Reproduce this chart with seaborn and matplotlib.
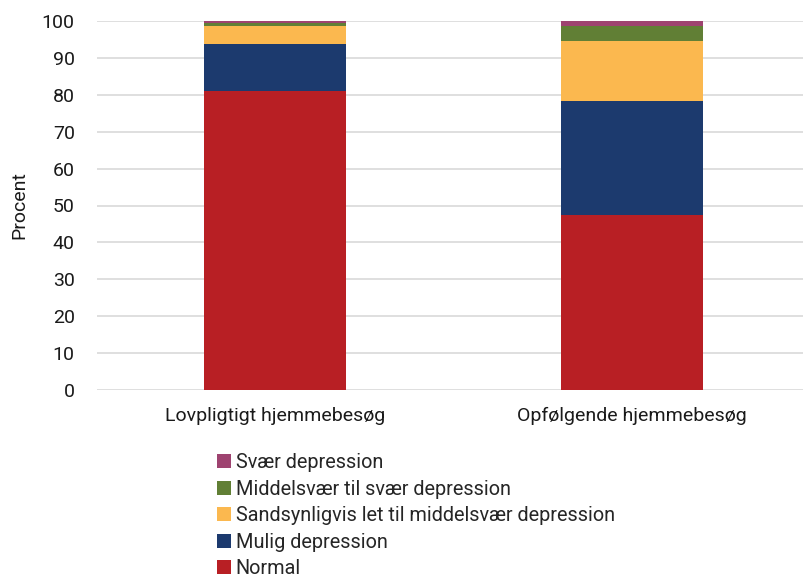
import numpy as np
import pandas as pd
import matplotlib
matplotlib.use("Agg")
import matplotlib.pyplot as plt
import seaborn as sns
from matplotlib.patches import Patch

# Data
categories = ["Lovpligtigt hjemmebesøg", "Opfølgende hjemmebesøg"]
series_names = ["Normal", "Mulig depression",
                "Sandsynligvis let til middelsvær depression",
                "Middelsvær til svær depression", "Svær depression"]
normal = [81.0, 47.4]
mulig = [12.8, 31.0]
sandsynlig = [4.8, 16.3]
middelsvaer = [0.9, 4.0]
svaer = [0.5, 1.3]
colors = ["#B81F24", "#1C3A6E", "#FBB84F", "#617F35", "#9E4370"]

sns.set_theme(style="white")
plt.rcParams["font.family"] = ["Roboto", "DejaVu Sans"]

df = pd.DataFrame({"cat": categories, "Normal": normal, "Mulig depression": mulig,
                   "Sandsynligvis let til middelsvær depression": sandsynlig,
                   "Middelsvær til svær depression": middelsvaer,
                   "Svær depression": svaer})
cum = df[series_names].cumsum(axis=1)

fig = plt.figure(figsize=(8.04, 5.79), dpi=100)
ax = fig.add_axes([97 / 804, 1 - 390 / 579, (804 - 97) / 804, (390 - 21) / 579])

# draw from the top of the stack down so each layer overlays the one above
for name, col in reversed(list(zip(series_names, colors))):
    sns.barplot(x=df["cat"], y=cum[name], color=col, width=0.4, ax=ax,
                saturation=1, edgecolor="none", zorder=3)

ax.set_ylim(0, 100)
ax.set_yticks(np.arange(0, 101, 10))
ax.set_xlim(-0.4986, 1.482)
ax.yaxis.grid(True, color="#D9D9D9", linewidth=1.2, zorder=0)
ax.set_axisbelow(True)
for s in ["top", "right", "left", "bottom"]:
    ax.spines[s].set_visible(False)
ax.tick_params(axis="both", length=0, labelsize=14, colors="#1a1a1a")
ax.tick_params(axis="y", pad=16)
ax.tick_params(axis="x", pad=12)
ax.set_xlabel("")
ax.set_ylabel("Procent", fontsize=14, color="#1a1a1a")
ax.yaxis.set_label_coords(-69 / 707, 0.5)

handles = [Patch(facecolor=c, edgecolor="none", label=n)
           for n, c in reversed(list(zip(series_names, colors)))]
fig.legend(handles=handles, loc="upper left", bbox_to_anchor=(217 / 804, 1 - 453 / 579),
           frameon=False, fontsize=14.3, handlelength=0.7, handleheight=0.7,
           handletextpad=0.25, labelspacing=0.38, borderaxespad=0, borderpad=0)

fig.savefig("out.png", dpi=100)
